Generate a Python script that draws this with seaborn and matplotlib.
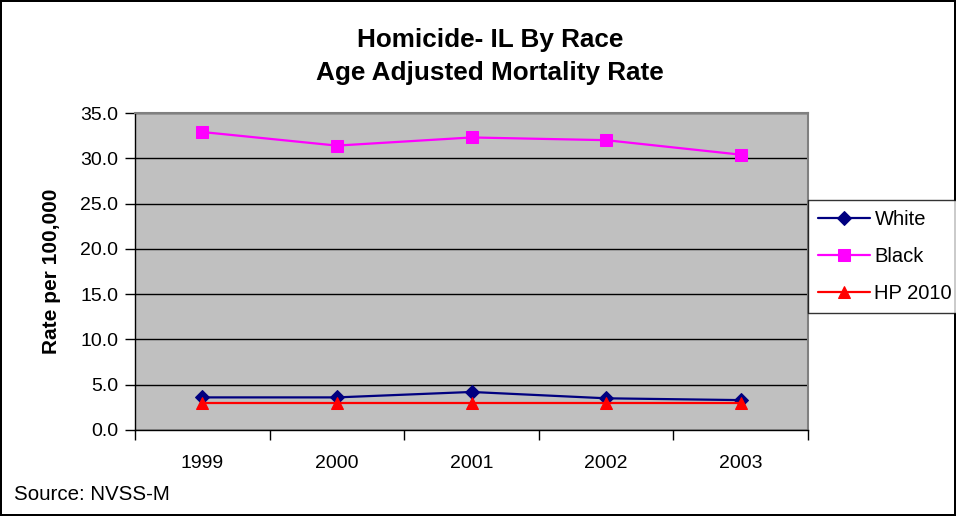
import numpy as np
import pandas as pd
import matplotlib
matplotlib.use("Agg")
import matplotlib.pyplot as plt
import seaborn as sns
from matplotlib.ticker import FixedLocator, FuncFormatter

# ==== data ====
years = ["1999", "2000", "2001", "2002", "2003"]
white = [3.6, 3.6, 4.2, 3.5, 3.3]
black = [32.9, 31.4, 32.3, 32.0, 30.4]
hp2010 = [3.0, 3.0, 3.0, 3.0, 3.0]

series_names = ["White", "Black", "HP 2010"]
colors = {"White": "#000080", "Black": "#FF00FF", "HP 2010": "#FF0000"}
markers = {"White": "D", "Black": "s", "HP 2010": "^"}
msizes = {"White": 7, "Black": 8, "HP 2010": 9}

rows = []
for name, vals in zip(series_names, [white, black, hp2010]):
    for i, v in enumerate(vals):
        rows.append({"pos": i, "rate": v, "series": name})
df = pd.DataFrame(rows)

sns.set_theme(style="white")
plt.rcParams['font.family'] = ['Liberation Sans', 'DejaVu Sans']
plt.rcParams['text.color'] = 'black'
plt.rcParams['axes.labelcolor'] = 'black'
plt.rcParams['xtick.color'] = 'black'
plt.rcParams['ytick.color'] = 'black'

fig = plt.figure(figsize=(9.56, 5.16), dpi=100)
fig.patch.set_facecolor("white")
fig.patch.set_edgecolor("black")
fig.patch.set_linewidth(1.5)

ax = fig.add_axes([135 / 956, 1 - 430 / 516, (808 - 135) / 956, (430 - 113) / 516])
ax.set_facecolor("#C0C0C0")

for name in series_names:
    sub = df[df["series"] == name]
    sns.lineplot(data=sub, x="pos", y="rate", ax=ax, color=colors[name],
                 marker=markers[name], markersize=msizes[name],
                 markeredgecolor=colors[name], linewidth=1.6, label=name,
                 zorder=3)

ax.set_xlim(-0.5, len(years) - 0.5)
ax.set_ylim(0, 35)
ax.set_yticks(np.arange(0, 35.1, 5))
ax.yaxis.set_major_formatter(FuncFormatter(lambda v, p: f"{v:.1f}"))
ax.yaxis.grid(True, color="black", linewidth=1)
ax.xaxis.grid(False)
ax.set_axisbelow(True)

ax.set_xticks(range(len(years)))
ax.set_xticklabels(years)
ax.xaxis.set_minor_locator(FixedLocator(np.arange(-0.5, len(years), 1.0)))
ax.tick_params(axis="x", which="major", length=0, pad=18, labelsize=14, labelcolor="black")
ax.tick_params(axis="x", which="minor", length=7, width=1, color="black", direction="out", bottom=True)
ax.tick_params(axis="y", which="major", length=7, width=1, color="black", direction="out",
               left=True, pad=5, labelsize=14, labelcolor="black")

for side in ["top", "right"]:
    ax.spines[side].set_color("#808080")
    ax.spines[side].set_linewidth(1.5)
for side in ["left", "bottom"]:
    ax.spines[side].set_color("black")
    ax.spines[side].set_linewidth(1)

ax.set_xlabel("")
ax.set_ylabel("Rate per 100,000", fontsize=15, fontweight="bold", labelpad=14, color="black")

leg = ax.legend(loc="upper left", bbox_to_anchor=(808 / 956, 1 - 200 / 516),
                bbox_transform=fig.transFigure, frameon=True, fancybox=False,
                fontsize=14.5, handlelength=2.6, borderpad=0.5, labelspacing=0.9,
                handletextpad=0.2, borderaxespad=0)
leg.get_frame().set_edgecolor("black")
leg.get_frame().set_linewidth(1)
for t in leg.get_texts():
    t.set_color("black")

fig.text(490 / 956, 1 - 40 / 516, "Homicide- IL By Race", ha="center", va="center",
         fontsize=18.8, fontweight="bold", color="black")
fig.text(490 / 956, 1 - 73 / 516, "Age Adjusted Mortality Rate", ha="center", va="center",
         fontsize=18.8, fontweight="bold", color="black")
fig.text(14 / 956, 1 - 494 / 516, "Source: NVSS-M", ha="left", va="center",
         fontsize=14.8, color="black")

fig.savefig("out.png", dpi=100, facecolor=fig.get_facecolor(), edgecolor=fig.get_edgecolor())
